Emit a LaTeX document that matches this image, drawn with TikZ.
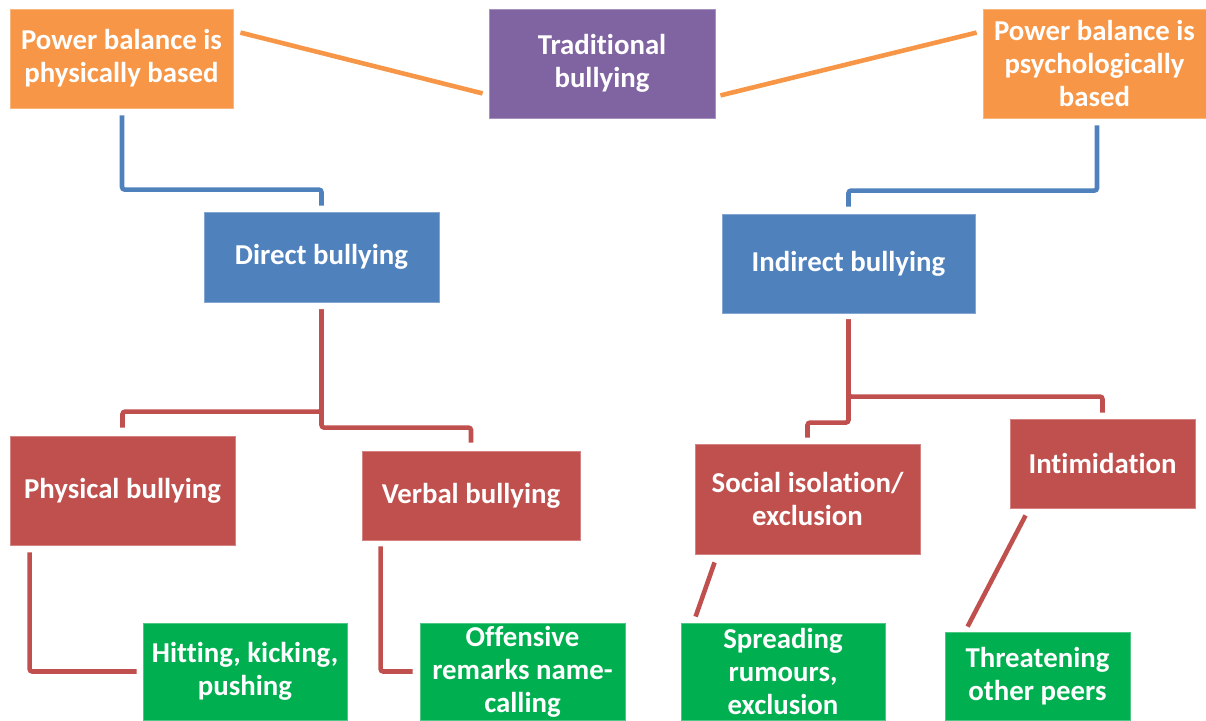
\documentclass[tikz,border=0pt]{standalone}
\usepackage{fontspec}
\setmainfont{Carlito}[Ligatures=NoCommon]
\usepackage{tikz}
\usetikzlibrary{positioning, calc}
\definecolor{orng}{HTML}{F79646}
\definecolor{purp}{HTML}{8064A2}
\definecolor{blu}{HTML}{4F81BD}
\definecolor{rd}{HTML}{C0504D}
\definecolor{grn}{HTML}{00B050}

\begin{document}
\begin{tikzpicture}[x=0.02cm, y=0.02cm,
  blk/.style={rectangle, fill=#1, draw=#1!70!white, line width=0.5pt,
              text=white, align=center, inner sep=0pt,
              font=\fontsize{16.4}{18.7}\selectfont\bfseries},
  lnk/.style={draw=#1, line width=2.6pt, rounded corners=1.5pt}
]
  \useasboundingbox (0,0) rectangle (1206,-720);

  % top row
  \node[blk=orng, minimum width=4.46cm, minimum height=1.98cm] (pphys) at (121.5,-58.5) {Power balance is\\physically based};
  \node[blk=purp, minimum width=4.52cm, minimum height=2.18cm] (trad) at (602,-63.5) {Traditional\\bullying};
  \node[blk=orng, minimum width=4.46cm, minimum height=2.18cm] (ppsy) at (1094.5,-63.5) {Power balance is\\psychologically\\based};

  % second row
  \node[blk=blu, minimum width=4.70cm, minimum height=1.80cm] (direct) at (321.5,-257) {Direct bullying};
  \node[blk=blu, minimum width=5.06cm, minimum height=1.98cm] (indirect) at (848.5,-263.5) {Indirect bullying};

  % third row
  \node[blk=rd, minimum width=4.50cm, minimum height=2.18cm] (physical) at (122.5,-490.5) {Physical bullying};
  \node[blk=rd, minimum width=4.36cm, minimum height=1.78cm] (verbal) at (471,-495.5) {Verbal bullying};
  \node[blk=rd, minimum width=4.50cm, minimum height=2.20cm] (social) at (807.5,-499) {Social isolation/\\exclusion};
  \node[blk=rd, minimum width=3.70cm, minimum height=1.78cm] (intim) at (1102.5,-463.5) {Intimidation};

  % examples
  \node[blk=grn, minimum width=4.08cm, minimum height=1.94cm] (hitting) at (245,-671.5) {Hitting, kicking,\\pushing};
  \node[blk=grn, minimum width=4.10cm, minimum height=1.94cm] (offens) at (522.5,-671.5) {Offensive\\remarks name-\\calling};
  \node[blk=grn, minimum width=4.08cm, minimum height=1.94cm] (spread) at (783,-671.5) {Spreading\\rumours,\\exclusion};
  \node[blk=grn, minimum width=3.70cm, minimum height=1.76cm] (threat) at (1037.5,-676) {Threatening\\other peers};

  % connectors
  \draw[lnk=orng] ($(pphys.north east)+(7,-24)$) -- ($(trad.south west)+(-6,25)$);
  \draw[lnk=orng] ($(trad.south east)+(5,23)$) -- ($(ppsy.north west)+(-6,-24)$);

  \draw[lnk=blu] ($(pphys.south)+(0.5,-7)$) |- ($(direct.north)+(0,22)$) -- ++(0,-16);
  \draw[lnk=blu] ($(ppsy.south)+(2.5,-7)$) |- ($(indirect.north)+(0,23)$) -- ++(0,-16);

  \draw[lnk=rd] ($(direct.south)+(0,-7)$) |- ($(physical.north)+(0,24)$) -- ++(0,-16);
  \draw[lnk=rd] ($(direct.south)+(0,-7)$) |- ($(verbal.north)+(0,23)$) -- ++(0,-15);
  \draw[lnk=rd] ($(indirect.south)+(0,-6)$) |- ($(intim.north)+(0,22)$) -- ++(0,-16);
  \draw[lnk=rd] ($(indirect.south)+(0,-6)$) |- ($(social.north)+(0,21)$) -- ++(0,-15);

  \draw[lnk=rd] ($(physical.south west)+(20,-7)$) |- ($(hitting.west)+(-6,0)$);
  \draw[lnk=rd] ($(verbal.south west)+(19,-6)$) |- ($(offens.west)+(-7,0)$);
  \draw[lnk=rd] ($(social.south west)+(20,-8)$) -- ($(spread.north west)+(15,6)$);
  \draw[lnk=rd] ($(intim.south west)+(16,-7)$) -- ($(threat.north west)+(23,5)$);
\end{tikzpicture}
\end{document}
